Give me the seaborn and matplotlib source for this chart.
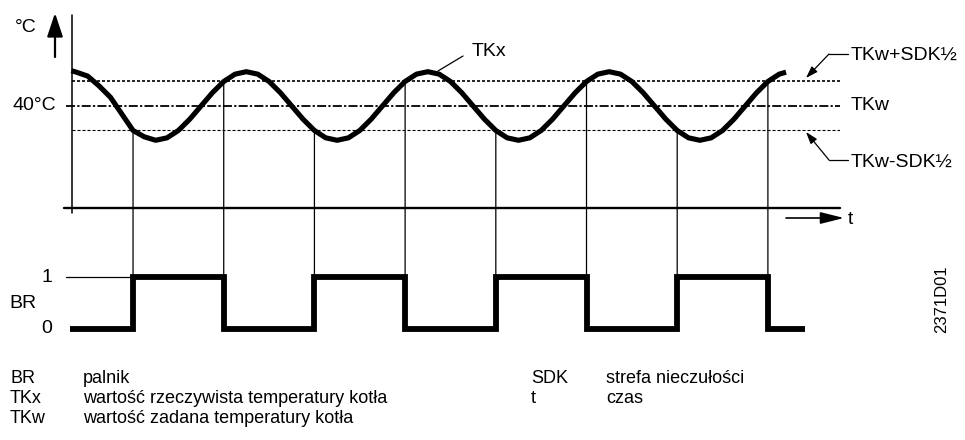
import matplotlib
matplotlib.use("Agg")
import matplotlib.pyplot as plt
import matplotlib.transforms as mtransforms
from matplotlib.patches import ConnectionPatch
import pandas as pd
import seaborn as sns

# Boiler temperature TKx (°C) over time t (arbitrary units)
time_tkx = [0.7, 1.25, 2.5, 3.75, 5.0, 6.25, 7.5, 8.75, 10.0, 11.25, 12.5, 13.75,
            15.0, 16.25, 17.5, 18.75, 20.0, 21.25, 22.5, 23.75, 25.0, 26.25, 27.5,
            28.75, 30.0, 31.25, 32.5, 33.75, 35.0, 36.25, 37.5, 38.75, 40.0, 41.25,
            42.5, 43.75, 45.0, 46.25, 47.5, 48.75, 50.0, 51.25, 52.5, 53.75, 55.0,
            56.25, 57.5, 58.75, 60.0, 61.25, 62.5, 63.75, 65.0, 66.25, 67.5, 68.75,
            70.0, 71.25, 72.5, 73.75, 75.0, 76.25, 77.5, 78.75, 79.5]
tkx = [47.2, 46.9, 46.1, 44.1, 41.8, 38.4, 35.0, 33.7, 33.0, 33.5, 35.0, 37.3,
       40.0, 42.7, 45.0, 46.5, 47.0, 46.5, 45.0, 42.7, 40.0, 37.3, 35.0,
       33.5, 33.0, 33.5, 35.0, 37.3, 40.0, 42.7, 45.0, 46.5, 47.0, 46.5,
       45.0, 42.7, 40.0, 37.3, 35.0, 33.5, 33.0, 33.5, 35.0, 37.3, 40.0,
       42.7, 45.0, 46.5, 47.0, 46.5, 45.0, 42.7, 40.0, 37.3, 35.0, 33.5,
       33.0, 33.5, 35.0, 37.3, 40.0, 42.7, 45.0, 46.5, 46.9]

# Setpoint TKw and half of the switching differential SDK (°C)
tkw = 40.0
sdk_half = 5.0

# Burner state BR (0 = off, 1 = on), held from each time until the next one
time_br = [0.55, 7.5, 17.5, 27.5, 37.5, 47.5, 57.5, 67.5, 77.5, 81.6]
br = [0, 1, 0, 1, 0, 1, 0, 1, 0, 0]

# Key to the symbols
legend_left = [("BR", "palnik"),
               ("TKx", "wartość rzeczywista temperatury kotła"),
               ("TKw", "wartość zadana temperatury kotła")]
legend_right = [("SDK", "strefa nieczułości"),
                ("t", "czas")]

sns.set_style("white")
plt.rcParams["font.family"] = ["Liberation Sans", "DejaVu Sans"]
plt.rcParams["lines.scale_dashes"] = False

W, H = 965, 440
fig = plt.figure(figsize=(W / 100, H / 100), dpi=100)
fig.patch.set_facecolor("white")


def fx(px):
    return px / W


def fy(py):
    return 1 - py / H


LABEL_FS = 14
LEGEND_FS = 13
INK = "black"

# Temperature panel
ax1 = fig.add_axes([fx(72), fy(208), (840 - 72) / W, (208 - 15) / H])
ax1.set_xlim(0.77, 85.45)
ax1.set_ylim(19.18, 58.57)
ax1.set_axis_off()

# Burner panel, same time scale
ax2 = fig.add_axes([fx(72), fy(345), (840 - 72) / W, (345 - 240) / H])
ax2.set_xlim(0.77, 85.45)
ax2.set_ylim(-0.308, 1.712)
ax2.set_axis_off()

df_tkx = pd.DataFrame({"t": time_tkx, "TKx": tkx})
df_br = pd.DataFrame({"t": time_br, "BR": br})

# Switching band and setpoint
ax1.axhline(tkw + sdk_half, color=INK, lw=1.2, linestyle=(0, (2.2, 1.4)), zorder=2)
ax1.axhline(tkw, xmin=-6 / 768, xmax=1, color=INK, lw=1.3,
            linestyle=(0, (6.5, 1.6, 1.6, 1.6)), clip_on=False, zorder=2)
ax1.axhline(tkw - sdk_half, color=INK, lw=0.8, linestyle=(0, (2.2, 1.4)), zorder=2)

# Axis lines
ax1.axvline(ax1.get_xlim()[0], ymin=-5 / 193, ymax=1, color=INK, lw=1.1,
            clip_on=False, zorder=3)
ax1.axhline(ax1.get_ylim()[0], xmin=-8 / 768, xmax=1, color=INK, lw=1.7,
            clip_on=False, zorder=3)

# Boiler temperature curve
sns.lineplot(data=df_tkx, x="t", y="TKx", ax=ax1, color=INK, lw=3.7,
             solid_capstyle="butt", solid_joinstyle="round", clip_on=False,
             zorder=5)
ax1.set_axis_off()

# Burner on/off signal
sns.lineplot(data=df_br, x="t", y="BR", ax=ax2, color=INK, lw=4.2,
             drawstyle="steps-post", solid_joinstyle="miter",
             solid_capstyle="butt", clip_on=False, zorder=5)
ax2.set_axis_off()
ax2.plot([0.11, time_br[1]], [1, 1], color=INK, lw=0.9, clip_on=False, zorder=3)

# Switching instants: temperature threshold down to the burner signal
for i in range(1, len(br) - 1):
    if br[i] == br[i - 1]:
        continue
    t_sw = time_br[i]
    thr = tkw - sdk_half if br[i] == 1 else tkw + sdk_half
    con = ConnectionPatch(xyA=(t_sw, thr), coordsA=ax1.transData,
                          xyB=(t_sw, 1), coordsB=ax2.transData,
                          color=INK, lw=0.9, zorder=1)
    fig.add_artist(con)

# Axis arrows and units
ax1.annotate("", xy=(fx(55), fy(13)), xytext=(fx(55), fy(57)),
             xycoords="figure fraction", textcoords="figure fraction",
             arrowprops=dict(arrowstyle="-|>,head_length=0.72,head_width=0.24",
                             mutation_scale=20, lw=1.6, color=INK,
                             shrinkA=0, shrinkB=0))
fig.text(fx(15), fy(27), "°C", ha="left", va="center", fontsize=LABEL_FS, color=INK)

ax1.annotate("", xy=(fx(844), fy(218)), xytext=(fx(786), fy(218)),
             xycoords="figure fraction", textcoords="figure fraction",
             arrowprops=dict(arrowstyle="-|>,head_length=0.72,head_width=0.18",
                             mutation_scale=20, lw=1.2, color=INK,
                             shrinkA=0, shrinkB=0))
fig.text(fx(848), fy(219), "t", ha="left", va="center", fontsize=LABEL_FS, color=INK)

# Setpoint value on the temperature axis
left_blend = mtransforms.blended_transform_factory(fig.transFigure, ax1.transData)
ax1.text(fx(56), tkw, "40°C", transform=left_blend, ha="right", va="center",
         fontsize=LABEL_FS, color=INK)

# Curve and band labels
fig.text(fx(472), fy(52), "TKx", ha="left", va="center", fontsize=LABEL_FS, color=INK)
ax1.annotate("", xy=(fx(438), fy(71)), xytext=(fx(463), fy(56)),
             xycoords="figure fraction", textcoords="figure fraction",
             arrowprops=dict(arrowstyle="-", lw=0.9, color=INK,
                             shrinkA=0, shrinkB=0))

ax1.text(fx(851), tkw, "TKw", transform=left_blend, ha="left", va="center",
         fontsize=LABEL_FS, color=INK)

band_labels = [("TKw+SDK½", 55, 54, 78), ("TKw-SDK½", 162, 160, 132)]
for text, y_text, y_leader, y_tip in band_labels:
    fig.text(fx(851), fy(y_text), text, ha="left", va="center",
             fontsize=LABEL_FS, color=INK)
    fig.add_artist(plt.Line2D([fx(829), fx(848)], [fy(y_leader), fy(y_leader)],
                              transform=fig.transFigure, color=INK, lw=0.9))
    ax1.annotate("", xy=(fx(806), fy(y_tip)), xytext=(fx(829), fy(y_leader)),
                 xycoords="figure fraction", textcoords="figure fraction",
                 arrowprops=dict(arrowstyle="-|>,head_length=0.9,head_width=0.3",
                                 mutation_scale=8, lw=0.9, color=INK,
                                 shrinkA=0, shrinkB=0))

# Burner levels
br_blend = mtransforms.blended_transform_factory(fig.transFigure, ax2.transData)
ax2.text(fx(52), 1, "1", transform=br_blend, ha="right", va="center",
         fontsize=LABEL_FS, color=INK)
ax2.text(fx(52), 0, "0", transform=br_blend, ha="right", va="center",
         fontsize=LABEL_FS, color=INK)
ax2.text(fx(9), 0.5, "BR", transform=br_blend, ha="left", va="center",
         fontsize=LABEL_FS, color=INK)

# Drawing number
fig.text(fx(942), fy(299), "2371D01", rotation=90, ha="center", va="center",
         fontsize=12, color=INK)

# Key
row_y = [378, 398, 418]
for (sym, desc), y in zip(legend_left, row_y):
    fig.text(fx(10), fy(y), sym, ha="left", va="center", fontsize=LEGEND_FS, color=INK)
    fig.text(fx(83), fy(y), desc, ha="left", va="center", fontsize=LEGEND_FS, color=INK)
for (sym, desc), y in zip(legend_right, row_y):
    fig.text(fx(531), fy(y), sym, ha="left", va="center", fontsize=LEGEND_FS, color=INK)
    fig.text(fx(606), fy(y), desc, ha="left", va="center", fontsize=LEGEND_FS, color=INK)

fig.savefig("out.png", dpi=100, facecolor="white")
